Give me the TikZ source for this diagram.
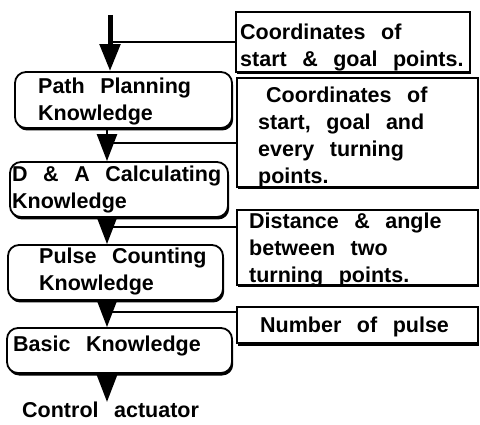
\documentclass[tikz,border=0pt]{standalone}
\usepackage{fontspec}
\setmainfont{Liberation Sans}[WordSpace=2.6]
\usetikzlibrary{arrows.meta,shadows}
\begin{document}
\begin{tikzpicture}[x=1pt,y=-1pt,
  txt/.style={font=\bfseries\fontsize{21.5}{27}\selectfont, align=left, inner sep=0pt, anchor=west},
  boxbase/.style={draw, line width=1.8pt, fill=white, inner sep=0pt,
     drop shadow={shadow xshift=1.2pt, shadow yshift=-2.5pt, fill=black, opacity=1}},
  lbox/.style={boxbase, rounded corners=11pt},
  rbox/.style={boxbase},
  flow/.style={line width=2.5pt, -{Triangle[width=20pt,length=27pt]}},
  link/.style={line width=1.6pt}]
\useasboundingbox (0,0) rectangle (480,425);

% left knowledge boxes
\node[lbox, minimum width=217pt, minimum height=56pt] (pp) at (123.5,100) {};
\node[lbox, minimum width=218pt, minimum height=55pt] (da) at (119,189.5) {};
\node[lbox, minimum width=215pt, minimum height=55pt] (pc) at (115.5,272.5) {};
\node[lbox, minimum width=225pt, minimum height=45pt] (bk) at (119.5,350.5) {};

% right data boxes
\node[rbox, minimum width=234pt, minimum height=60pt] (r1) at (353,42) {};
\node[rbox, minimum width=241pt, minimum height=109pt] (r2) at (357.5,132.5) {};
\node[rbox, minimum width=241pt, minimum height=75pt] (r3) at (357.5,247.5) {};
\node[rbox, minimum width=241pt, minimum height=36pt] (r4) at (357.5,325) {};

% texts
\node[txt] (ppt) at (38,101) {Path Planning\\Knowledge};
\node[txt] (dat) at (12,189.5) {D \& A Calculating\\Knowledge};
\node[txt] (pct) at (39,271) {Pulse Counting\\Knowledge};
\node[txt] (bkt) at (13,346) {Basic Knowledge};
\node[txt] (r1t) at (240,47) {Coordinates of\\start \& goal points.};
\node[txt] (r2t) at (258,137) {\hspace*{8pt}Coordinates of\\start, goal and\\every turning\\points.};
\node[txt] (r3t) at (249,250) {Distance \& angle\\between two\\turning points.};
\node[txt] (r4t) at (260,327) {Number of pulse};
\node[txt] (ctrl) at (22,410) {Control actuator};

% column coordinates
\coordinate (src) at (110,15);
\coordinate (ax) at (107,0);
\coordinate (j1) at (110,42);
\coordinate (j2) at (107,143);
\coordinate (j3) at (107,227);
\coordinate (j4) at (107,312);

% links from data boxes
\draw[link] (r1.west |- j1) -- (j1);
\draw[link] (r2.west |- j2) -- (j2);
\draw[link] (r3.west |- j3) -- (j3);
\draw[link] (r4.west |- j4) -- (j4);

% flow arrows
\draw[flow, line width=5pt] (src) -- (src |- pp.north);
\draw[flow] (pp.south -| ax) -- (da.north -| ax);
\draw[flow] (da.south -| ax) -- (pc.north -| ax);
\draw[flow] (pc.south -| ax) -- (bk.north -| ax);
\draw[flow] (bk.south -| ax) -- (ctrl.north -| ax);
\end{tikzpicture}
\end{document}
